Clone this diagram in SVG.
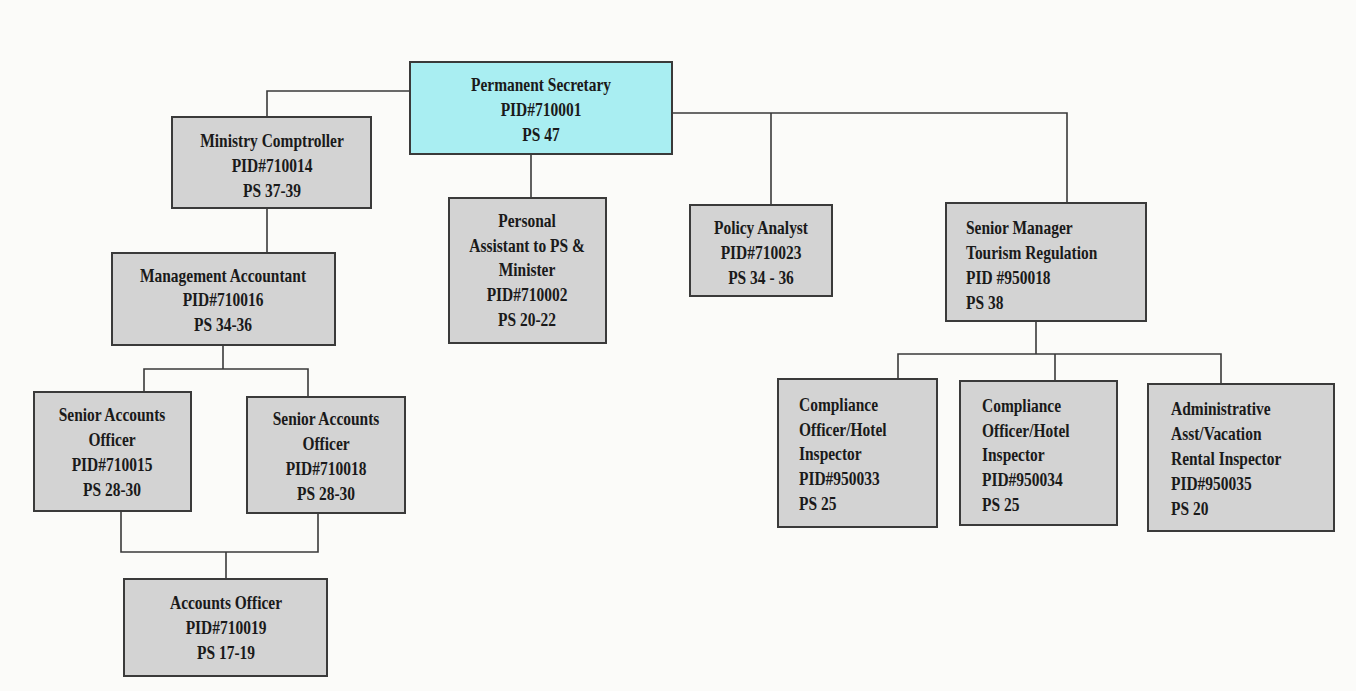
<svg xmlns="http://www.w3.org/2000/svg" width="1356" height="691" viewBox="0 0 1356 691">
<style>
.bg{fill:#fbfbf9}
.box{fill:#d3d3d3;stroke:#3a3a3a;stroke-width:2}
.top{fill:#a9eef2;stroke:#3a3a3a;stroke-width:2}
.t{font-family:"Liberation Serif","Times New Roman",serif;font-weight:bold;font-size:18px;fill:#1a1a1a}
.c{text-anchor:middle}
.l{text-anchor:start}
.con{fill:none;stroke:#3a3a3a;stroke-width:1.6}
</style>
<rect class="bg" x="0" y="0" width="1356" height="691"/>
<g id="connectors">
<path class="con" d="M410,91 H267 V117"/>
<path class="con" d="M531,154 V198"/>
<path class="con" d="M672,113 H1067 V203"/>
<path class="con" d="M771,113 V205"/>
<path class="con" d="M267,208 V253"/>
<path class="con" d="M223,345 V369"/>
<path class="con" d="M144,392 V369 H308 V397"/>
<path class="con" d="M121,511 V552 H318 V513"/>
<path class="con" d="M226,552 V579"/>
<path class="con" d="M1036,321 V354"/>
<path class="con" d="M898,379 V354 H1221 V384"/>
<path class="con" d="M1055,354 V381"/>
</g>
<g id="permanent-secretary">
<rect class="top" x="410" y="62" width="262" height="92"/>
<text class="t c" transform="translate(541,91) scale(0.86,1)"><tspan x="0" y="0">Permanent Secretary</tspan><tspan x="0" y="25">PID#710001</tspan><tspan x="0" y="50">PS 47</tspan></text>
</g>
<g id="ministry-comptroller">
<rect class="box" x="172" y="117" width="199" height="91"/>
<text class="t c" transform="translate(272,147) scale(0.86,1)"><tspan x="0" y="0">Ministry Comptroller</tspan><tspan x="0" y="25">PID#710014</tspan><tspan x="0" y="50">PS 37-39</tspan></text>
</g>
<g id="management-accountant">
<rect class="box" x="112" y="253" width="223" height="92"/>
<text class="t c" transform="translate(223,282) scale(0.86,1)"><tspan x="0" y="0">Management Accountant</tspan><tspan x="0" y="24.5">PID#710016</tspan><tspan x="0" y="49">PS 34-36</tspan></text>
</g>
<g id="personal-assistant">
<rect class="box" x="449" y="198" width="157" height="145"/>
<text class="t c" transform="translate(527,227) scale(0.86,1)"><tspan x="0" y="0">Personal</tspan><tspan x="0" y="24.75">Assistant to PS &amp;</tspan><tspan x="0" y="49.5">Minister</tspan><tspan x="0" y="74.25">PID#710002</tspan><tspan x="0" y="99">PS 20-22</tspan></text>
</g>
<g id="policy-analyst">
<rect class="box" x="690" y="205" width="142" height="91"/>
<text class="t c" transform="translate(761,234) scale(0.86,1)"><tspan x="0" y="0">Policy Analyst</tspan><tspan x="0" y="25">PID#710023</tspan><tspan x="0" y="50">PS 34 - 36</tspan></text>
</g>
<g id="senior-manager">
<rect class="box" x="946" y="203" width="200" height="118"/>
<text class="t l" transform="translate(966,234) scale(0.86,1)"><tspan x="0" y="0">Senior Manager</tspan><tspan x="0" y="25">Tourism Regulation</tspan><tspan x="0" y="50">PID #950018</tspan><tspan x="0" y="75">PS 38</tspan></text>
</g>
<g id="senior-accounts-officer-1">
<rect class="box" x="34" y="392" width="157" height="119"/>
<text class="t c" transform="translate(112,421) scale(0.86,1)"><tspan x="0" y="0">Senior Accounts</tspan><tspan x="0" y="25">Officer</tspan><tspan x="0" y="50">PID#710015</tspan><tspan x="0" y="75">PS 28-30</tspan></text>
</g>
<g id="senior-accounts-officer-2">
<rect class="box" x="247" y="397" width="158" height="116"/>
<text class="t c" transform="translate(326,425) scale(0.86,1)"><tspan x="0" y="0">Senior Accounts</tspan><tspan x="0" y="25">Officer</tspan><tspan x="0" y="50">PID#710018</tspan><tspan x="0" y="75">PS 28-30</tspan></text>
</g>
<g id="accounts-officer">
<rect class="box" x="124" y="579" width="203" height="97"/>
<text class="t c" transform="translate(226,609) scale(0.86,1)"><tspan x="0" y="0">Accounts Officer</tspan><tspan x="0" y="25">PID#710019</tspan><tspan x="0" y="50">PS 17-19</tspan></text>
</g>
<g id="compliance-officer-1">
<rect class="box" x="778" y="379" width="159" height="148"/>
<text class="t l" transform="translate(799,411) scale(0.86,1)"><tspan x="0" y="0">Compliance</tspan><tspan x="0" y="24.75">Officer/Hotel</tspan><tspan x="0" y="49.5">Inspector</tspan><tspan x="0" y="74.25">PID#950033</tspan><tspan x="0" y="99">PS 25</tspan></text>
</g>
<g id="compliance-officer-2">
<rect class="box" x="960" y="381" width="157" height="144"/>
<text class="t l" transform="translate(982,412) scale(0.86,1)"><tspan x="0" y="0">Compliance</tspan><tspan x="0" y="24.75">Officer/Hotel</tspan><tspan x="0" y="49.5">Inspector</tspan><tspan x="0" y="74.25">PID#950034</tspan><tspan x="0" y="99">PS 25</tspan></text>
</g>
<g id="administrative-assistant">
<rect class="box" x="1148" y="384" width="186" height="147"/>
<text class="t l" transform="translate(1171,415) scale(0.86,1)"><tspan x="0" y="0">Administrative</tspan><tspan x="0" y="25">Asst/Vacation</tspan><tspan x="0" y="50">Rental Inspector</tspan><tspan x="0" y="75">PID#950035</tspan><tspan x="0" y="100">PS 20</tspan></text>
</g>
</svg>
